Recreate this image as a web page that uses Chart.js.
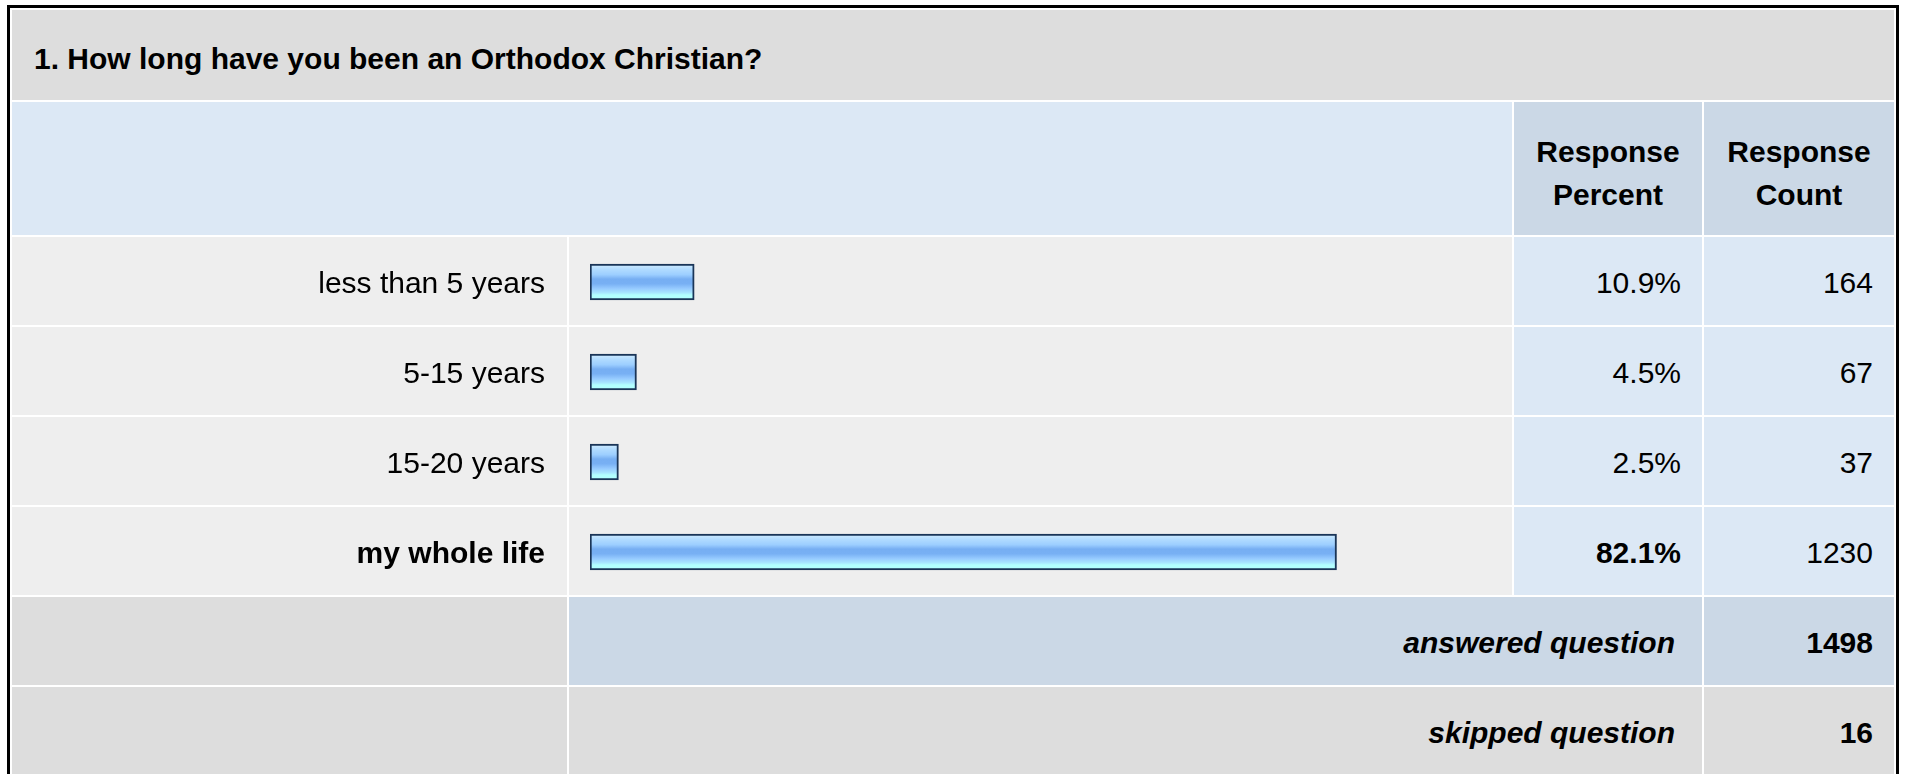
<!DOCTYPE html>
<html>
<head>
<meta charset="utf-8">
<script src="https://cdn.jsdelivr.net/npm/chart.js@4/dist/chart.umd.min.js"></script>
<style>
  body { margin: 0; background: #fff; font-family: "Liberation Sans", Arial, sans-serif; color: #000; }
  #frame { position: absolute; left: 7px; top: 5px; width: 1892px; height: 800px; box-sizing: border-box; border: 3px solid #000; }
  #grid {
    position: absolute; left: 12px; top: 10px;
    display: grid;
    grid-template-columns: 555px 943px 188px 190px;
    grid-template-rows: 90px 133px 88px 88px 88px 88px 88px 88px;
    gap: 2px;
  }
  #grid div { font-size: 30px; display: flex; align-items: center; box-sizing: border-box; padding-top: 4px; }
  #grid .title { grid-column: 1 / 5; background: #dddddd; font-weight: bold; padding-left: 22px; padding-top: 8px; }
  .hdr { background: #dce8f5; grid-column: 1 / 3; }
  #grid .hdr2 { background: #cbd8e6; font-weight: bold; justify-content: center; text-align: center; line-height: 43px; padding-top: 8px; }
  .lab { background: #eeeeee; }
  .bar { background: #eeeeee; }
  .num { background: #dce8f5; justify-content: flex-end; padding-right: 21px; }
  .gray { background: #dddddd; }
  .sum { justify-content: flex-end; padding-right: 27px; font-weight: bold; font-style: italic; grid-column: 2 / 4; }
  .tot { justify-content: flex-end; padding-right: 21px; font-weight: bold; }
  .blue { background: #cbd8e6; }
  #chartBox { position: absolute; left: 12px; top: 237px; width: 1486px; height: 360px; }
</style>
</head>
<body>
<div id="frame"></div>
<div id="grid"></div>
<div id="chartBox"><canvas id="chart" width="1486" height="360"></canvas></div>
<script>
const questionTitle = '1. How long have you been an Orthodox Christian?';
const headers = ['Response<br>Percent', 'Response<br>Count'];
const categories = ['less than 5 years', '5-15 years', '15-20 years', 'my whole life'];
const percents = [10.9, 4.5, 2.5, 82.1];
const counts = [164, 67, 37, 1230];
const answered = 1498;
const skipped = 16;
const topIndex = percents.indexOf(Math.max(...percents));

// table cells around the chart
const grid = document.querySelector('#grid');
let html = `<div class="title">${questionTitle}</div>`;
html += `<div class="hdr"></div>`;
html += headers.map(h => `<div class="hdr2">${h}</div>`).join('');
categories.forEach((c, i) => {
    const bold = i === topIndex ? ' style="font-weight:bold"' : '';
    html += `<div class="lab"></div><div class="bar"></div>`;
    html += `<div class="num"${bold}>${percents[i].toFixed(1)}%</div>`;
    html += `<div class="num">${counts[i]}</div>`;
});
html += `<div class="gray"></div><div class="sum blue">answered question</div><div class="tot blue">${answered}</div>`;
html += `<div class="gray"></div><div class="sum gray">skipped question</div><div class="tot gray">${skipped}</div>`;
grid.innerHTML = html;

const BAR_H = 36;
const FONT = '"Liberation Sans", Arial, sans-serif';

function barFill(context) {
    const yScale = context.chart.scales.y;
    if (!yScale || context.dataIndex === undefined) return '#94c8ff';
    const c = yScale.getPixelForValue(context.dataIndex);
    if (!Number.isFinite(c)) return '#94c8ff';
    const g = context.chart.ctx.createLinearGradient(0, c - BAR_H / 2, 0, c + BAR_H / 2);
    g.addColorStop(0.0, '#d4eeff');
    g.addColorStop(0.14, '#b2dcff');
    g.addColorStop(0.3, '#9cceff');
    g.addColorStop(0.42, '#76aef2');
    g.addColorStop(0.55, '#78b0f4');
    g.addColorStop(0.68, '#96caff');
    g.addColorStop(0.8, '#a8e6ff');
    g.addColorStop(0.86, '#b2ffff');
    g.addColorStop(1.0, '#b2ffff');
    return g;
}

new Chart(document.querySelector('#chart'), {
    type: 'bar',
    data: {
        labels: categories,
        datasets: [{
            data: percents,
            base: -0.65,
            backgroundColor: barFill,
            borderColor: '#1a3558',
            borderWidth: 2,
            borderSkipped: false,
            barThickness: BAR_H,
        }],
    },
    options: {
        indexAxis: 'y',
        responsive: false,
        animation: false,
        layout: { padding: 0 },
        plugins: { legend: { display: false }, tooltip: { enabled: false } },
        scales: {
            x: { display: false, min: -0.65, max: 100 },
            y: {
                grid: { display: false, drawTicks: false },
                border: { display: false },
                afterFit: (scale) => {
                    // fixed label column, no extra room above/below the rows
                    scale.width = 578;
                    scale.paddingTop = 0;
                    scale.paddingBottom = 0;
                },
                ticks: {
                    padding: 45,
                    labelOffset: 3,
                    color: '#000',
                    font: (ctx) => ({ family: FONT, size: 30, weight: ctx.index === topIndex ? 'bold' : 'normal' }),
                },
            },
        },
    },
});
</script>
</body>
</html>
